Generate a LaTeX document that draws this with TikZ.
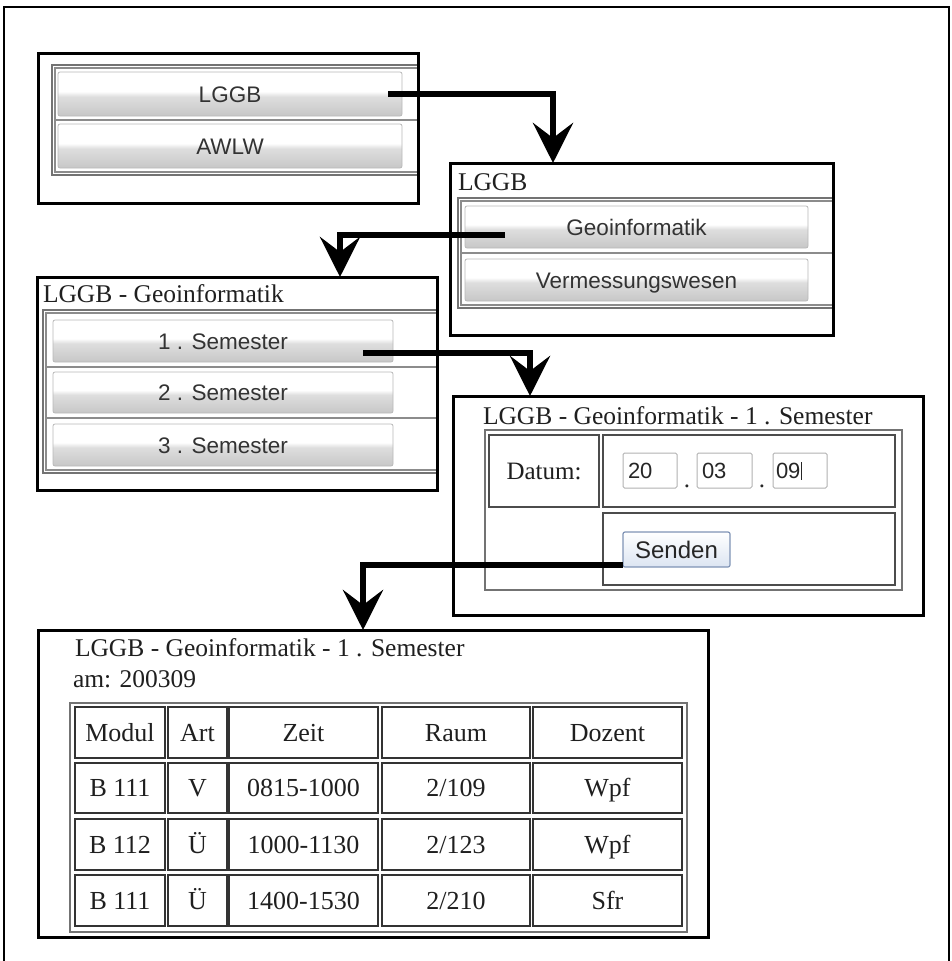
\documentclass[tikz,border=0pt]{standalone}
\usepackage{fontspec}
\setmainfont{Liberation Serif}
\newfontfamily\btnfont{Liberation Sans}
\usetikzlibrary{arrows.meta,fit}

\definecolor{sendlo}{HTML}{DCE5F2}
\definecolor{senddraw}{HTML}{7F93B5}
\pgfdeclareverticalshading{btnshade}{100bp}{color(0bp)=(black!22); color(25bp)=(black!22); color(47bp)=(black!13); color(53bp)=(white); color(75bp)=(white); color(100bp)=(white)}
\pgfdeclareverticalshading{sendshade}{100bp}{color(0bp)=(sendlo); color(25bp)=(sendlo); color(75bp)=(white); color(100bp)=(white)}

\tikzset{
  every node/.style={inner sep=0pt, outer sep=0pt},
  frameline/.style={draw=black, line width=2pt},
  win/.style={draw=black, line width=3pt},
  panel/.style={draw=black!55, line width=1.6pt},
  rowframe/.style={draw=black!45, line width=1.2pt},
  btn/.style={draw=black!28, line width=0.8pt, rounded corners=2pt, shade, shading=btnshade,
    font=\btnfont\fontsize{22.5}{26}\selectfont, text=black!80, text height=16pt, text depth=0pt},
  title/.style={anchor=base west, font=\fontsize{25.5}{30}\selectfont, text=black!88},
  formframe/.style={draw=black!55, line width=1.6pt},
  fcell/.style={draw=black!70, line width=1.5pt, font=\fontsize{25}{30}\selectfont, text=black!88,
    text height=16.5pt, text depth=0pt},
  inbox/.style={draw=black!30, line width=1pt, rounded corners=1.5pt, fill=white},
  intext/.style={anchor=west, font=\btnfont\fontsize{22}{26}\selectfont, text=black!85,
    text height=16pt, text depth=0pt},
  dotnode/.style={anchor=base, font=\fontsize{25}{30}\selectfont, text=black!85},
  sendbtn/.style={draw=senddraw, line width=1.2pt, rounded corners=2pt, shade, shading=sendshade,
    font=\btnfont\fontsize{24}{28}\selectfont, text=black!85, text height=17pt, text depth=0pt},
  tabframe/.style={draw=black!55, line width=2.4pt},
  tcellst/.style={draw=black!80, line width=1.8pt, font=\fontsize{26}{30}\selectfont, text=black!88,
    text height=17.3pt, text depth=0pt},
  arr/.style={draw=black, line width=6.5pt, -{Stealth[length=40pt,width=40pt,inset=15pt]}}
}

% rectangle node spanning (x1,y1)-(x2,y2) with centred text
\newcommand\rnode[7]{%
  \pgfmathsetmacro\rnw{#5-#3}\pgfmathsetmacro\rnh{#6-#4}%
  \node[#1, anchor=center, minimum width=\rnw pt, minimum height=\rnh pt]
    (#2) at ({(#3+#5)/2},{(#4+#6)/2}) {#7};}
\newcommand\tcell[6]{\rnode{tcellst}{#1}{#2}{#3}{#4}{#5}{#6}}

\begin{document}
\begin{tikzpicture}[x=1pt,y=-1pt]
\useasboundingbox (0,0) rectangle (952,961);

% page frame
\draw[frameline] (4,961) -- (4,7) -- (949,7) -- (949,961);

% ---- window 1: faculty choice
\draw[panel] (52,65) rectangle (418,175);
\draw[rowframe] (55,68) rectangle (418,120);
\draw[rowframe] (55,120) rectangle (418,172);
\rnode{btn}{lggb}{58}{72}{402}{116}{LGGB}
\rnode{btn}{awlw}{58}{124}{402}{168}{AWLW}
\node[fit={(38,53) (418,203)}, win] (win1) {};

% ---- window 2: course choice
\node[title] (t2) at (458,190) {LGGB};
\draw[panel] (458,198) rectangle (833,308);
\draw[rowframe] (461,201) rectangle (833,253);
\draw[rowframe] (461,253) rectangle (833,305);
\rnode{btn}{geo}{465}{206}{808}{248}{Geoinformatik}
\rnode{btn}{verm}{465}{259}{808}{301}{Vermessungswesen}
\node[fit={(450,163) (833,335)}, win] (win2) {};

% ---- window 3: semester choice
\node[title] (t3) at (43,302) {LGGB - Geoinformatik};
\draw[panel] (43,310) rectangle (437,473);
\draw[rowframe] (46,313) rectangle (437,367);
\draw[rowframe] (46,367) rectangle (437,418);
\draw[rowframe] (46,418) rectangle (437,470);
\rnode{btn}{sem1}{53}{320}{393}{362}{1 . Semester}
\rnode{btn}{sem2}{53}{372}{393}{413}{2 . Semester}
\rnode{btn}{sem3}{53}{424}{393}{466}{3 . Semester}
\node[fit={(37,277) (437,490)}, win] (win3) {};

% ---- window 4: date form
\node[fit={(453,396) (923,615)}, win] (win4) {};
\node[title] (t4) at (483,424) {LGGB - Geoinformatik - 1 . Semester};
\draw[formframe] (485,430) rectangle (902,590);
\rnode{fcell}{datum}{489}{435}{599}{507}{Datum:}
\rnode{fcell}{fdate}{603}{435}{895}{507}{}
\rnode{fcell}{fsend}{603}{513}{895}{585}{}
\node[fit={(623,453) (677,488)}, inbox] (in1) {};
\node[fit={(697,453) (752,488)}, inbox] (in2) {};
\node[fit={(773,453) (827,488)}, inbox] (in3) {};
\node[intext] (v1) at ([xshift=5pt]in1.west) {20};
\node[intext] (v2) at ([xshift=5pt]in2.west) {03};
\node[intext] (v3) at ([xshift=3pt]in3.west) {09\hspace{0.5pt}\rule[-1pt]{1.3pt}{18pt}};
\node[dotnode] (dot1) at (687,487) {.};
\node[dotnode] (dot2) at (762,487) {.};
\rnode{sendbtn}{senden}{623}{532}{730}{567}{Senden}

% ---- window 5: timetable
\node[fit={(38,630) (708,937)}, win] (win5) {};
\node[title] (t5) at (75,656) {LGGB - Geoinformatik - 1 . Semester};
\node[title] (am) at (73,687) {am: 200309};
\draw[tabframe] (70,703) rectangle (687,932);
\tcell{h1}{75}{707}{165}{758}{Modul}
\tcell{h2}{168}{707}{227}{758}{Art}
\tcell{h3}{229}{707}{378}{758}{Zeit}
\tcell{h4}{382}{707}{530}{758}{Raum}
\tcell{h5}{533}{707}{682}{758}{Dozent}
\tcell{a1}{75}{763}{165}{813}{B 111}
\tcell{a2}{168}{763}{227}{813}{V}
\tcell{a3}{229}{763}{378}{813}{0815-1000}
\tcell{a4}{382}{763}{530}{813}{2/109}
\tcell{a5}{533}{763}{682}{813}{Wpf}
\tcell{b1}{75}{819}{165}{870}{B 112}
\tcell{b2}{168}{819}{227}{870}{Ü}
\tcell{b3}{229}{819}{378}{870}{1000-1130}
\tcell{b4}{382}{819}{530}{870}{2/123}
\tcell{b5}{533}{819}{682}{870}{Wpf}
\tcell{c1}{75}{875}{165}{926}{B 111}
\tcell{c2}{168}{875}{227}{926}{Ü}
\tcell{c3}{229}{875}{378}{926}{1400-1530}
\tcell{c4}{382}{875}{530}{926}{2/210}
\tcell{c5}{533}{875}{682}{926}{Sfr}

% ---- navigation arrows
\coordinate (s1) at ([xshift=-14pt]lggb.east);
\coordinate (s2) at (505,235);
\coordinate (s3) at (363,353);
\coordinate (s4) at ([yshift=2pt]senden.south west);
\draw[arr] (s1) -| ([xshift=103pt]win2.north west);
\draw[arr] (s2) -| ([xshift=303pt]win3.north west);
\draw[arr] (s3) -| ([xshift=77pt]win4.north west);
\draw[arr] (s4) -| ([xshift=325pt]win5.north west);
\end{tikzpicture}
\end{document}
